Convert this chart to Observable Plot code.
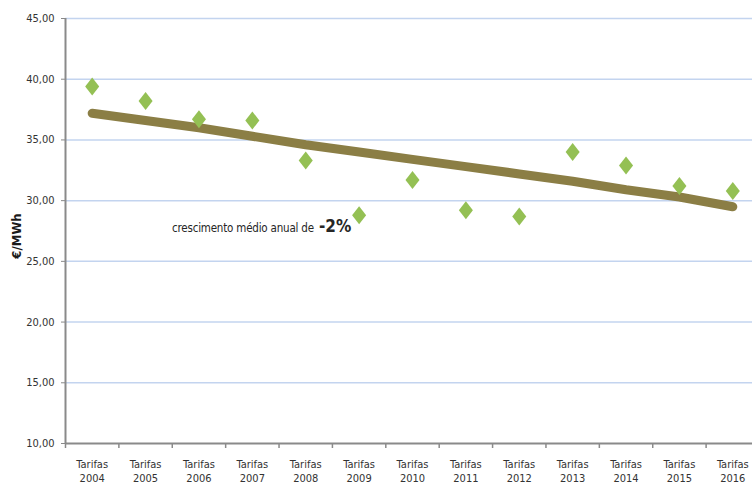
<!DOCTYPE html>
<html><head><meta charset="utf-8">
<script src="https://cdn.jsdelivr.net/npm/d3@7"></script>
<script src="https://cdn.jsdelivr.net/npm/@observablehq/plot@0.6"></script>
<style>
body{margin:0;background:#fff}
#chart{position:relative;width:752px;height:490px;overflow:hidden;font-family:"Liberation Sans Narrow","DejaVu Sans Condensed","Liberation Sans",sans-serif}
#note{position:absolute;left:172px;top:216px;font-size:11.5px;color:#262626;letter-spacing:-0.2px;white-space:nowrap}
#note b{font-size:17px;letter-spacing:0;margin-left:2px}
#ylab{position:absolute;left:16px;top:236px;transform:translate(-50%,-50%) rotate(-90deg);font-weight:bold;font-size:13px;color:#1a1a1a;white-space:nowrap}
</style>
</head><body><div id="chart"></div>
<script>
const years = [2004, 2005, 2006, 2007, 2008, 2009, 2010, 2011, 2012, 2013, 2014, 2015, 2016];
const tarifas = [39.4, 38.2, 36.7, 36.6, 33.3, 28.8, 31.7, 29.2, 28.7, 34.0, 32.9, 31.2, 30.8];
const tendencia = [37.2, 36.6, 36.0, 35.3, 34.6, 34.0, 33.4, 32.8, 32.2, 31.6, 30.9, 30.3, 29.5];
const yTicks = [10, 15, 20, 25, 30, 35, 40, 45];
const xLabelPrefix = "Tarifas";
const yTitle = "€/MWh";
const noteText = "crescimento médio anual de ";
const noteValue = "-2%";

const rows = years.map((y, i) => ({year: y, v: tarifas[i], t: tendencia[i]}));
const bounds = [years[0] - 0.5, ...years.map(y => y + 0.5)];

const diamond = {
  draw(ctx, size) {
    const r = Math.sqrt(size / Math.PI);
    const w = r * 0.78;
    ctx.moveTo(0, -r); ctx.lineTo(w, 0); ctx.lineTo(0, r); ctx.lineTo(-w, 0); ctx.closePath();
  }
};

const fmt = d => d.toFixed(2).replace(".", ",");

const plot = Plot.plot({
  width: 752,
  height: 490,
  marginLeft: 65,
  marginRight: 0,
  marginTop: 18,
  marginBottom: 47,
  style: {fontFamily: '"Liberation Sans Narrow","DejaVu Sans Condensed","Liberation Sans",sans-serif', background: "#fff"},
  x: {domain: [years[0] - 0.5, years[years.length - 1] + 0.5], range: [65, 759]},
  y: {domain: [10, 45]},
  marks: [
    Plot.gridY(yTicks.filter(d => d > 10), {stroke: "#c3d4ef", strokeOpacity: 1, strokeWidth: 1.5}),
    Plot.axisY({ticks: yTicks, tickSize: 4, tickPadding: 7, tickFormat: fmt, fontSize: 11, color: "#333", stroke: "#888", label: null}),
    Plot.axisX({ticks: bounds, tickSize: 5, tickFormat: () => "", stroke: "#8a8a8a", strokeWidth: 1.5, label: null}),
    Plot.ruleX([bounds[0]], {stroke: "#8a8a8a", strokeWidth: 2}),
    Plot.ruleY([10], {stroke: "#8a8a8a", strokeWidth: 2}),
    Plot.axisX({ticks: years, tickSize: 0, tickPadding: 14, tickFormat: d => xLabelPrefix + "\n" + d, fontSize: 11, color: "#333", label: null, lineHeight: 1.3}),
    Plot.line(rows, {x: "year", y: "t", stroke: "#8b7e45", strokeWidth: 9, strokeLinecap: "round", strokeLinejoin: "round"}),
    Plot.dot(rows, {x: "year", y: "v", symbol: diamond, r: 9, fill: "#94c054", stroke: "none"})
  ]
});
const el = document.getElementById("chart");
el.appendChild(plot);
const note = document.createElement("div");
note.id = "note";
note.innerHTML = noteText + "<b>" + noteValue + "</b>";
el.appendChild(note);
const yl = document.createElement("div");
yl.id = "ylab";
yl.textContent = yTitle;
el.appendChild(yl);
</script>
</body></html>
